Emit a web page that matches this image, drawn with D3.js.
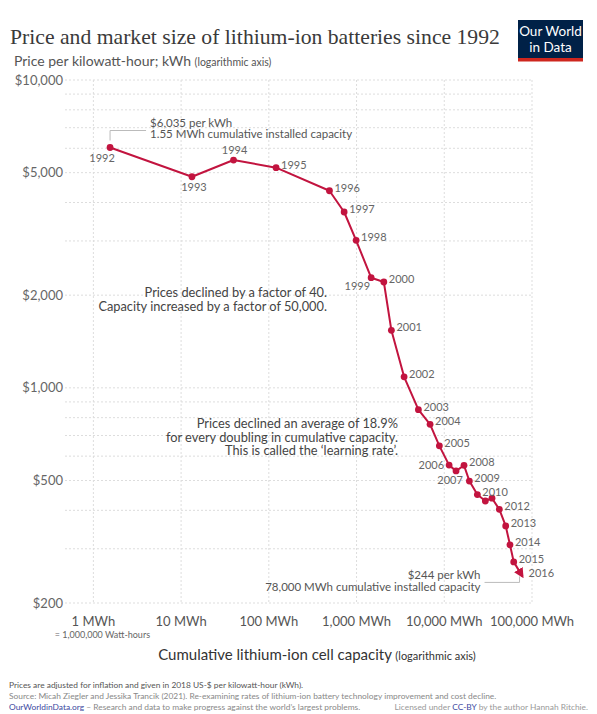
<!DOCTYPE html>
<html>
<head>
<meta charset="utf-8">
<script src="https://cdn.jsdelivr.net/npm/d3@7"></script>
<style>
  body { margin: 0; background: #fff; }
  text { font-family: Lato, "Open Sans", sans-serif; }
</style>
</head>
<body>
<script>
// values (cumulative capacity in MWh, price in 2018 US-$ per kWh)
const capacityMWh = [1.55, 13.3, 39.6, 121, 491, 722, 989, 1467, 2047, 2496, 3484, 5070, 6890, 8790,
  11350, 13620, 16790, 19320, 23830, 29380, 35000, 42430, 50150, 56100, 61900, 78000];
const pricePerKWh = [6035, 4850, 5495, 5190, 4368, 3726, 3014, 2279, 2207, 1538, 1086, 849, 761, 648,
  561, 537, 560, 498, 450, 429, 438, 403, 356, 309, 272, 244];
const yearLabels = ["1992", "1993", "1994", "1995", "1996", "1997", "1998", "1999", "2000", "2001",
  "2002", "2003", "2004", "2005", "2006", "2007", "2008", "2009", "2010", "", "", "2012", "2013",
  "2014", "2015", "2016"];
const priceTicks = [200, 500, 1000, 2000, 5000, 10000];
const capacityTicks = [1, 10, 100, 1000, 10000, 100000];
const capacityTickLabels = ["1 MWh", "10 MWh", "100 MWh", "1,000 MWh", "10,000 MWh", "100,000 MWh"];

// where each year label sits relative to its point (default is right)
const labelPlacement = { "1992": "bl", "1993": "b", "1994": "t", "1999": "l2", "2006": "l", "2007": "b2" };

const red = "#c2143f";
const width = 597, height = 714;

const svg = d3.select("body").append("svg")
  .attr("width", width).attr("height", height);

const x = d3.scaleLog().domain([0.475, 100000]).range([65, 532]);
const y = d3.scaleLog().domain([200, 10000]).range([603, 80]);

// title + subtitle
const title = svg.append("text").attr("x", 10).attr("y", 44)
  .style("font-family", "'Liberation Serif', serif").style("font-size", "22px").attr("fill", "#3a3a3a")
  .text("Price and market size of lithium-ion batteries since 1992");
const tl = title.node().getComputedTextLength();
title.style("font-size", (22 * 490 / tl).toFixed(2) + "px");

const sub = svg.append("text").attr("x", 14).attr("y", 66).attr("fill", "#555").style("font-size", "14px");
sub.append("tspan").text("Price per kilowatt-hour; kWh ");
sub.append("tspan").style("font-size", "10.5px").text("(logarithmic axis)");

// logo
const logo = svg.append("g").attr("transform", "translate(518,20)");
logo.append("rect").attr("width", 65).attr("height", 41).attr("fill", "#002147");
logo.append("rect").attr("y", 38).attr("width", 65).attr("height", 3.5).attr("fill", "#ce261e");
logo.append("text").attr("x", 32.5).attr("y", 16).attr("text-anchor", "middle").attr("fill", "#fff")
  .style("font-size", "13.5px").text("Our World");
logo.append("text").attr("x", 32.5).attr("y", 32).attr("text-anchor", "middle").attr("fill", "#fff")
  .style("font-size", "13.5px").text("in Data");

// gridlines
svg.append("g").selectAll("line").data(y.ticks()).join("line")
  .attr("x1", x.range()[0]).attr("x2", x.range()[1])
  .attr("y1", d => y(d)).attr("y2", d => y(d))
  .attr("stroke", "#ddd").attr("stroke-dasharray", "2,2");
svg.append("g").selectAll("line").data(capacityTicks).join("line")
  .attr("x1", d => x(d)).attr("x2", d => x(d))
  .attr("y1", y.range()[1]).attr("y2", y.range()[0])
  .attr("stroke", "#ddd").attr("stroke-dasharray", "2,2");

// y tick labels
svg.append("g").selectAll("text").data(priceTicks).join("text")
  .attr("x", 63).attr("y", d => y(d)).attr("dy", "0.35em").attr("text-anchor", "end")
  .attr("fill", "#666").style("font-size", "13px")
  .text(d => "$" + d3.format(",")(d));

// x tick labels
svg.append("g").selectAll("text").data(capacityTicks).join("text")
  .attr("x", d => x(d)).attr("y", 626).attr("text-anchor", "middle")
  .attr("fill", "#555").style("font-size", "13px")
  .text((d, i) => capacityTickLabels[i]);
svg.append("text").attr("x", x(1) + 9).attr("y", 638).attr("text-anchor", "middle")
  .attr("fill", "#666").style("font-size", "9px").text("= 1,000,000 Watt-hours");

// x axis title
const xt = svg.append("text").attr("x", 317).attr("y", 660).attr("text-anchor", "middle")
  .attr("fill", "#333").style("font-size", "15px");
xt.append("tspan").text("Cumulative lithium-ion cell capacity ");
xt.append("tspan").style("font-size", "11px").text("(logarithmic axis)");

// data
const pts = capacityMWh.map((c, i) => ({ c: c, p: pricePerKWh[i], label: yearLabels[i] }));
const last = pts.length - 1;

const defs = svg.append("defs");
defs.append("marker").attr("id", "arrow").attr("viewBox", "0 0 10 10")
  .attr("refX", 8).attr("refY", 5).attr("markerWidth", 5).attr("markerHeight", 5)
  .attr("orient", "auto").attr("markerUnits", "strokeWidth")
  .append("path").attr("d", "M0,0L10,5L0,10z").attr("fill", red);

const line = d3.line().x(d => x(d.c)).y(d => y(d.p));
svg.append("path").datum(pts.slice(0, last)).attr("d", line)
  .attr("fill", "none").attr("stroke", red).attr("stroke-width", 2).attr("stroke-linejoin", "round");
svg.append("path").datum(pts.slice(last - 1)).attr("d", line)
  .attr("fill", "none").attr("stroke", red).attr("stroke-width", 2)
  .attr("marker-end", "url(#arrow)");

svg.append("g").selectAll("circle").data(pts.slice(0, last)).join("circle")
  .attr("cx", d => x(d.c)).attr("cy", d => y(d.p)).attr("r", 3.4).attr("fill", red);

// year labels
const labels = svg.append("g").style("font-family", "'Liberation Sans', Arial, sans-serif")
  .style("font-size", "11px").attr("fill", "#666");
pts.filter(d => d.label).forEach(d => {
  const px = x(d.c), py = y(d.p);
  const pos = labelPlacement[d.label] || "r";
  let tx = px + 5, ty = py + 1, anchor = "start";
  if (pos === "bl") { tx = px - 8; ty = py + 14; anchor = "middle"; }
  if (pos === "b") { tx = px + 2; ty = py + 14; anchor = "middle"; }
  if (pos === "t") { tx = px + 1; ty = py - 6; anchor = "middle"; }
  if (pos === "l2") { tx = px - 1; ty = py + 12; anchor = "end"; }
  if (pos === "l") { tx = px - 5; ty = py + 4; anchor = "end"; }
  if (pos === "b2") { tx = px - 6; ty = py + 13; anchor = "middle"; }
  if (d === pts[last]) { tx = px + 6; ty = py + 1; }
  labels.append("text").attr("x", tx).attr("y", ty).attr("text-anchor", anchor).text(d.label);
});

// annotations
const ann = svg.append("g").attr("fill", "#555").style("font-size", "11.5px");
const p0 = pts[0], pN = pts[last];
svg.append("path")
  .attr("d", `M${x(p0.c)},${y(p0.p) - 7}V${y(p0.p) - 17}H${x(p0.c) + 36}`)
  .attr("fill", "none").attr("stroke", "#bbb");
ann.append("text").attr("x", x(p0.c) + 40).attr("y", y(p0.p) - 21).text("$6,035 per kWh");
ann.append("text").attr("x", x(p0.c) + 40).attr("y", y(p0.p) - 10).text("1.55 MWh cumulative installed capacity");

svg.append("path")
  .attr("d", `M${x(pN.c) - 3},${y(pN.p)}V${y(pN.p) + 6}H${x(pN.c) - 38}`)
  .attr("fill", "none").attr("stroke", "#bbb");
ann.append("text").attr("x", x(pN.c) - 42).attr("y", y(pN.p) + 3).attr("text-anchor", "end").text("$244 per kWh");
ann.append("text").attr("x", x(pN.c) - 42).attr("y", y(pN.p) + 15).attr("text-anchor", "end")
  .text("78,000 MWh cumulative installed capacity");

const note = svg.append("g").attr("fill", "#444").style("font-size", "12.8px").attr("text-anchor", "end");
note.append("text").attr("x", 327).attr("y", 297).text("Prices declined by a factor of 40.");
note.append("text").attr("x", 327).attr("y", 310.5).text("Capacity increased by a factor of 50,000.");
note.append("text").attr("x", 398).attr("y", 428).text("Prices declined an average of 18.9%");
note.append("text").attr("x", 398).attr("y", 441.5).text("for every doubling in cumulative capacity.");
note.append("text").attr("x", 398).attr("y", 455).text("This is called the \u2018learning rate\u2019.");

// footer
const foot = svg.append("g").style("font-size", "8.4px");
foot.append("text").attr("x", 9).attr("y", 688).attr("fill", "#555")
  .text("Prices are adjusted for inflation and given in 2018 US-$ per kilowatt-hour (kWh).");
foot.append("text").attr("x", 9).attr("y", 699).attr("fill", "#888")
  .text("Source: Micah Ziegler and Jessika Trancik (2021). Re-examining rates of lithium-ion battery technology improvement and cost decline.");
const f3 = foot.append("text").attr("x", 9).attr("y", 710).attr("fill", "#888");
f3.append("tspan").attr("fill", "#3b48a0").text("OurWorldinData.org");
f3.append("tspan").text(" \u2013 Research and data to make progress against the world\u2019s largest problems.");
const f4 = foot.append("text").attr("x", 588).attr("y", 710).attr("fill", "#999").attr("text-anchor", "end");
f4.append("tspan").text("Licensed under ");
f4.append("tspan").attr("fill", "#3b48a0").text("CC-BY");
f4.append("tspan").text(" by the author Hannah Ritchie.");
</script>
</body>
</html>
